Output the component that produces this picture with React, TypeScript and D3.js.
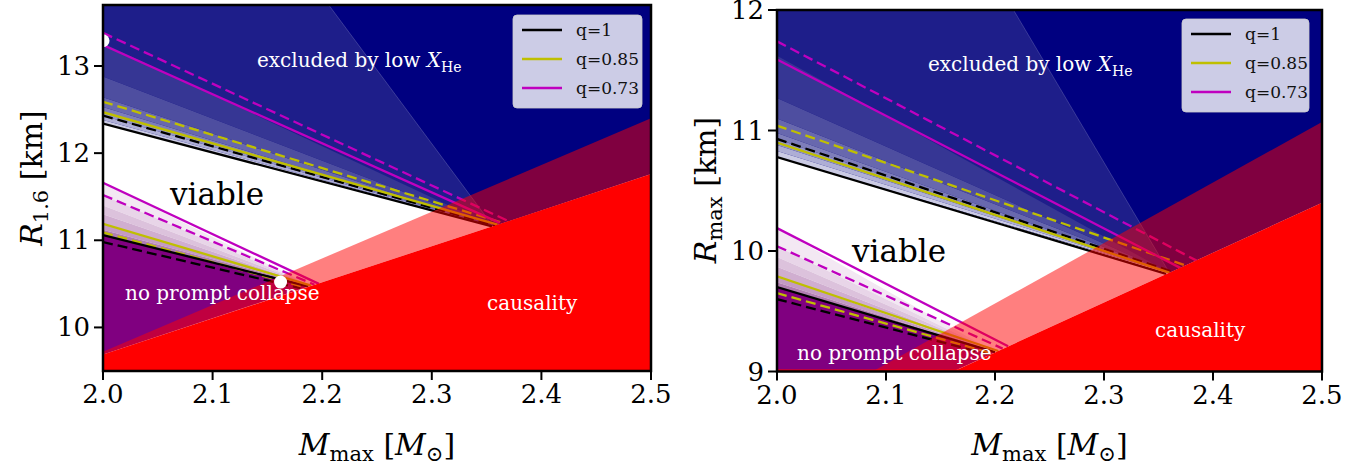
import React from 'react';
import * as d3 from 'd3';

type P = [number, number];

const X_TICKS = [2.0, 2.1, 2.2, 2.3, 2.4, 2.5];
const LEFT_Y_TICKS = [10, 11, 12, 13];
const RIGHT_Y_TICKS = [9, 10, 11, 12];
const Q_LABELS = ['q=1', 'q=0.85', 'q=0.73'];
const Q_COLORS = ['#000000', '#bfbf00', '#bf00bf'];

// ---- left panel (R_1.6) : lines ordered q=1, q=0.85, q=0.73 ----
const L_UPPER_SOLID: P[][] = [[[2.0, 12.34], [2.355, 11.16]], [[2.0, 12.47], [2.36, 11.18]], [[2.0, 13.24], [2.362, 11.2]]];
const L_UPPER_DASHED: P[][] = [[[2.0, 12.43], [2.358, 11.17]], [[2.0, 12.59], [2.365, 11.2]], [[2.0, 13.38], [2.37, 11.22]]];
const L_LOWER_SOLID: P[][] = [[[2.0, 11.06], [2.187, 10.47]], [[2.0, 11.19], [2.19, 10.48]], [[2.0, 11.66], [2.197, 10.5]]];
const L_LOWER_DASHED: P[][] = [[[2.0, 10.98], [2.18, 10.45]], [[2.0, 11.09], [2.185, 10.46]], [[2.0, 11.52], [2.193, 10.49]]];
const L_UPPER_EDGES = [12.34, 12.38, 12.43, 12.47, 12.53, 12.64, 12.88, 13.26];
const L_UPPER_JOIN: P = [2.356, 11.16];
const L_LOWER_EDGES = [11.66, 11.52, 11.4, 11.3, 11.19, 11.12, 11.06];
const L_LOWER_JOIN: P = [2.19, 10.48];
const L_WEDGE_TOP_X = 2.206;
const L_CAUSALITY: P[] = [[2.0, 9.69], [2.5, 11.76]];
const L_CAUS_BAND_TOP: P[] = [[2.0, 9.72], [2.5, 12.4]];
const L_DOTS: P[] = [[2.0, 13.29], [2.162, 10.52]];

// ---- right panel (R_max) ----
const R_UPPER_SOLID: P[][] = [[[2.0, 10.78], [2.357, 9.81]], [[2.0, 10.9], [2.36, 9.82]], [[2.0, 11.59], [2.37, 9.86]]];
const R_UPPER_DASHED: P[][] = [[[2.0, 10.93], [2.362, 9.83]], [[2.0, 11.04], [2.375, 9.88]], [[2.0, 11.74], [2.385, 9.92]]];
const R_LOWER_SOLID: P[][] = [[[2.0, 9.7], [2.2, 9.16]], [[2.0, 9.79], [2.203, 9.17]], [[2.0, 10.19], [2.212, 9.21]]];
const R_LOWER_DASHED: P[][] = [[[2.0, 9.6], [2.195, 9.14]], [[2.0, 9.65], [2.198, 9.15]], [[2.0, 10.04], [2.207, 9.19]]];
const R_UPPER_EDGES = [10.78, 10.83, 10.88, 10.93, 10.98, 11.1, 11.27, 11.62];
const R_UPPER_JOIN: P = [2.36, 9.82];
const R_LOWER_EDGES = [10.19, 10.04, 9.95, 9.87, 9.79, 9.74, 9.7];
const R_LOWER_JOIN: P = [2.2, 9.16];
const R_WEDGE_TOP_X = 2.217;
const R_CAUSALITY: P[] = [[2.0, 8.33], [2.5, 10.4]];
const R_CAUS_BAND_TOP: P[] = [[2.0, 8.56], [2.5, 11.07]];
const R_DOTS: P[] = [];

const UPPER_BAND_COLORS = ['#cbcbe4', '#aeaed5', '#9494c6', '#7e7eba', '#6868ae', '#4e4ea0', '#363694'];
const LOWER_BAND_COLORS = ['#f3e8f3', '#e8d5e8', '#dcc2dc', '#d0aed0', '#c49ac4', '#b27eb2'];
const WEDGE_COLOR = '#1e1e8a';
const NAVY = '#000080';
const PURPLE = '#800080';

const SERIF = '"DejaVu Serif", "Liberation Serif", serif';

interface Cfg {
  id: string;
  x0: number; x1: number; yTop: number; yBot: number;
  yDomain: [number, number];
  yTicks: number[];
  upperSolid: P[][]; upperDashed: P[][]; lowerSolid: P[][]; lowerDashed: P[][];
  upperEdges: number[]; upperJoin: P; lowerEdges: number[]; lowerJoin: P;
  wedgeTopX: number; causality: P[]; causBandTop: P[]; dots: P[];
  ylabelSub: string; ylabelX: number; ylabelY: number;
  texts: { excluded: P; viable: P; noPrompt: P; causality: P };
  legend: { x: number; y: number; w: number; h: number };
}

const CFGS: Cfg[] = [
  {
    id: 'L', x0: 103, x1: 651, yTop: 5, yBot: 371, yDomain: [9.5, 13.7], yTicks: LEFT_Y_TICKS,
    upperSolid: L_UPPER_SOLID, upperDashed: L_UPPER_DASHED, lowerSolid: L_LOWER_SOLID, lowerDashed: L_LOWER_DASHED,
    upperEdges: L_UPPER_EDGES, upperJoin: L_UPPER_JOIN, lowerEdges: L_LOWER_EDGES, lowerJoin: L_LOWER_JOIN,
    wedgeTopX: L_WEDGE_TOP_X, causality: L_CAUSALITY, causBandTop: L_CAUS_BAND_TOP, dots: L_DOTS,
    ylabelSub: '1.6', ylabelX: 42, ylabelY: 178,
    texts: { excluded: [257, 67], viable: [170, 205], noPrompt: [125, 300], causality: [487, 310] },
    legend: { x: 513, y: 15, w: 129, h: 93 },
  },
  {
    id: 'R', x0: 777, x1: 1322, yTop: 10, yBot: 371.5, yDomain: [9, 12], yTicks: RIGHT_Y_TICKS,
    upperSolid: R_UPPER_SOLID, upperDashed: R_UPPER_DASHED, lowerSolid: R_LOWER_SOLID, lowerDashed: R_LOWER_DASHED,
    upperEdges: R_UPPER_EDGES, upperJoin: R_UPPER_JOIN, lowerEdges: R_LOWER_EDGES, lowerJoin: R_LOWER_JOIN,
    wedgeTopX: R_WEDGE_TOP_X, causality: R_CAUSALITY, causBandTop: R_CAUS_BAND_TOP, dots: R_DOTS,
    ylabelSub: 'max', ylabelX: 716, ylabelY: 190,
    texts: { excluded: [928, 71], viable: [852, 262], noPrompt: [797, 360], causality: [1155, 337] },
    legend: { x: 1182, y: 19, w: 127, h: 93 },
  },
];

function Panel({ c }: { c: Cfg }) {
  const x = d3.scaleLinear().domain([2.0, 2.5]).range([c.x0, c.x1]);
  const y = d3.scaleLinear().domain(c.yDomain).range([c.yBot, c.yTop]);
  const line = d3.line<P>().x(d => x(d[0])).y(d => y(d[1]));
  const poly = (pts: P[]) => (line(pts) || '') + 'Z';
  const [ymin, ymax] = c.yDomain;
  const clipId = 'clip' + c.id;

  const navy: P[] = [[2.0, ymax], [2.5, ymax], c.causality[1], c.upperJoin, [2.0, c.upperEdges[0]]];
  const wedge: P[] = [[2.0, ymax], [c.wedgeTopX, ymax], c.upperJoin, [2.0, c.upperEdges[0]]];
  const purple: P[] = [[2.0, c.lowerEdges[c.lowerEdges.length - 1]], c.lowerJoin, c.causality[0], [2.0, ymin]];
  const causBand: P[] = [c.causBandTop[0], c.causBandTop[1], c.causality[1], c.causality[0]];
  const causSolid: P[] = [c.causality[0], c.causality[1], [2.5, ymin], [2.0, ymin]];

  const upperBands = UPPER_BAND_COLORS.map((col, i) => ({
    col, pts: [[2.0, c.upperEdges[i]], c.upperJoin, [2.0, c.upperEdges[i + 1]]] as P[],
  }));
  const lowerBands = LOWER_BAND_COLORS.map((col, i) => ({
    col, pts: [[2.0, c.lowerEdges[i]], c.lowerJoin, [2.0, c.lowerEdges[i + 1]]] as P[],
  }));

  const lines: { pts: P[]; col: string; dashed: boolean }[] = [];
  [0, 1, 2].forEach(i => {
    lines.push({ pts: c.upperDashed[i], col: Q_COLORS[i], dashed: true });
    lines.push({ pts: c.lowerDashed[i], col: Q_COLORS[i], dashed: true });
  });
  [0, 1, 2].forEach(i => {
    lines.push({ pts: c.upperSolid[i], col: Q_COLORS[i], dashed: false });
    lines.push({ pts: c.lowerSolid[i], col: Q_COLORS[i], dashed: false });
  });

  const t = c.texts;
  const lg = c.legend;
  return (
    <g>
      <defs>
        <clipPath id={clipId}>
          <rect x={c.x0} y={c.yTop} width={c.x1 - c.x0} height={c.yBot - c.yTop} />
        </clipPath>
      </defs>
      <g clipPath={`url(#${clipId})`}>
        <rect x={c.x0} y={c.yTop} width={c.x1 - c.x0} height={c.yBot - c.yTop} fill="#ffffff" />
        <path d={poly(navy)} fill={NAVY} />
        <path d={poly(wedge)} fill={WEDGE_COLOR} />
        <path d={line([[c.wedgeTopX, ymax], c.upperJoin]) || ''} stroke="rgba(255,255,255,0.22)" strokeWidth={0.8} fill="none" />
        {upperBands.map((b, i) => <path key={'ub' + i} d={poly(b.pts)} fill={b.col} />)}
        <path d={poly(purple)} fill={PURPLE} />
        {lowerBands.map((b, i) => <path key={'lb' + i} d={poly(b.pts)} fill={b.col} />)}
        {lines.map((l, i) => (
          <path key={'ln' + i} d={line(l.pts) || ''} stroke={l.col} strokeWidth={2.3} fill="none"
            strokeDasharray={l.dashed ? '10,5' : undefined} />
        ))}
        <path d={poly(causBand)} fill="#ff0000" fillOpacity={0.5} />
        <path d={poly(causSolid)} fill="#ff0000" />
        <path d={line([[2.0, ymin], [2.5, ymin]]) || ''} stroke="#ff0000" strokeWidth={4} />
        {c.dots.map((d, i) => <circle key={'dot' + i} cx={x(d[0])} cy={y(d[1])} r={6.5} fill="#ffffff" />)}
      </g>
      {/* annotations */}
      <text x={t.excluded[0]} y={t.excluded[1]} fill="#ffffff" fontFamily={SERIF} fontSize={20}>
        excluded by low <tspan fontStyle="italic">X</tspan><tspan fontSize={14} dy={5}>He</tspan>
      </text>
      <text x={t.viable[0]} y={t.viable[1]} fill="#000000" fontFamily={SERIF} fontSize={31}>viable</text>
      <text x={t.noPrompt[0]} y={t.noPrompt[1]} fill="#ffffff" fontFamily={SERIF} fontSize={20}>no prompt collapse</text>
      <text x={t.causality[0]} y={t.causality[1]} fill="#ffffff" fontFamily={SERIF} fontSize={20}>causality</text>
      {/* legend */}
      <rect x={lg.x} y={lg.y} width={lg.w} height={lg.h} rx={4} fill="#ffffff" fillOpacity={0.8} stroke="#cccccc" strokeOpacity={0.8} />
      {Q_LABELS.map((lab, i) => {
        const yy = lg.y + 15 + i * 29;
        return (
          <g key={'lg' + i}>
            <line x1={lg.x + 9} x2={lg.x + 49} y1={yy} y2={yy} stroke={Q_COLORS[i]} strokeWidth={2.3} />
            <text x={lg.x + 63} y={yy + 6} fontFamily={SERIF} fontSize={17} fill="#111">{lab}</text>
          </g>
        );
      })}
      {/* axes */}
      <rect x={c.x0} y={c.yTop} width={c.x1 - c.x0} height={c.yBot - c.yTop} fill="none" stroke="#000" strokeWidth={2.5} />
      {X_TICKS.map(v => (
        <g key={'xt' + v}>
          <line x1={x(v)} x2={x(v)} y1={c.yBot} y2={c.yBot + 9} stroke="#000" strokeWidth={2} />
          <text x={x(v)} y={c.yBot + 32} textAnchor="middle" fontFamily={SERIF} fontSize={26}>{v.toFixed(1)}</text>
        </g>
      ))}
      {c.yTicks.map(v => (
        <g key={'yt' + v}>
          <line x1={c.x0 - 9} x2={c.x0} y1={y(v)} y2={y(v)} stroke="#000" strokeWidth={2} />
          <text x={c.x0 - 13} y={y(v) + 9} textAnchor="end" fontFamily={SERIF} fontSize={26}>{v}</text>
        </g>
      ))}
      <text x={(c.x0 + c.x1) / 2} y={455} textAnchor="middle" fontFamily={SERIF} fontSize={30}>
        <tspan fontStyle="italic">M</tspan><tspan fontSize={21} dy={6}>max</tspan><tspan dy={-6}> [</tspan><tspan fontStyle="italic">M</tspan><tspan fontSize={21} dy={6}>⊙</tspan><tspan dy={-6}>]</tspan>
      </text>
      <text transform={`translate(${c.ylabelX},${c.ylabelY}) rotate(-90)`} textAnchor="middle" fontFamily={SERIF} fontSize={30}>
        <tspan fontStyle="italic">R</tspan><tspan fontSize={21} dy={6}>{c.ylabelSub}</tspan><tspan dy={-6}> [km]</tspan>
      </text>
    </g>
  );
}

export default function App() {
  return (
    <svg width={1372} height={470} style={{ position: 'absolute', left: 0, top: 0, background: '#ffffff' }}>
      {CFGS.map(c => <Panel key={c.id} c={c} />)}
    </svg>
  );
}
